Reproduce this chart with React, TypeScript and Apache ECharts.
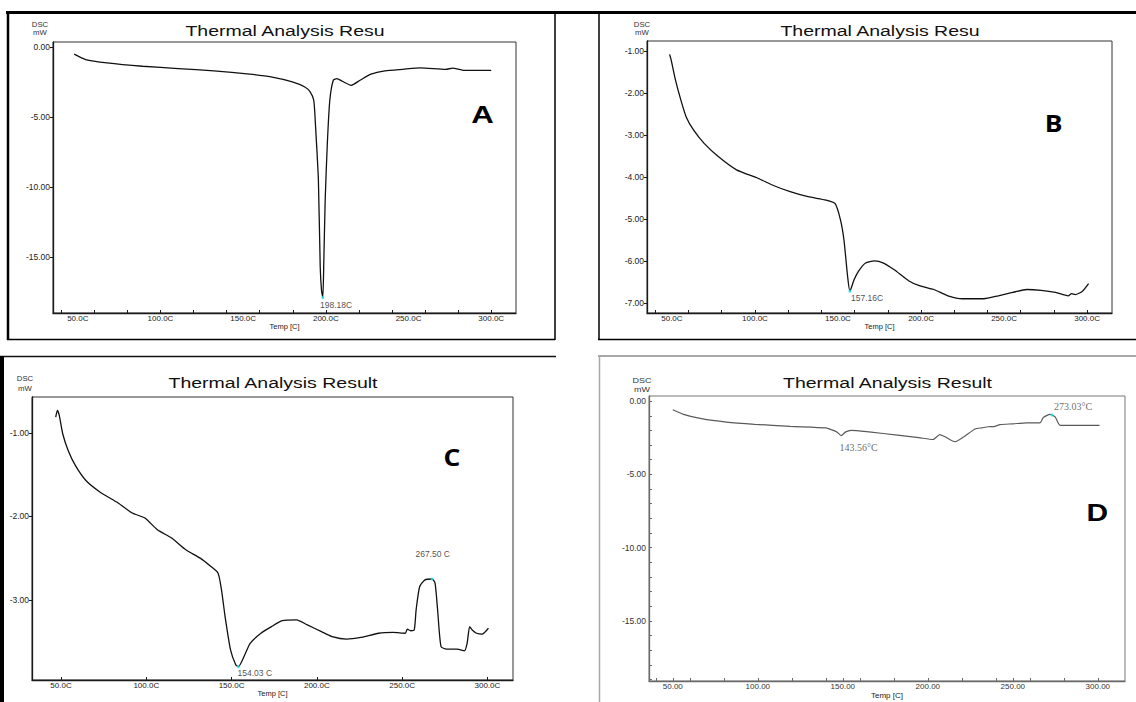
import React, { useEffect, useRef } from "react";
import * as echarts from "echarts";

// ---------- Panel A ----------
const aTemp = [47.8, 54.7, 67.7, 89.2, 110.8, 132.3, 153.9, 166.8, 179.7, 187.3, 190.5, 192.7, 193.8, 195.5, 196.6, 197.4, 198.18, 198.8, 199.6, 200.9, 202.4, 204.5, 206.7, 209.9, 215.3, 220.7, 227.2, 235.8, 246.6, 257.3, 272.4, 276.7, 283.2, 300];
const aDsc = [-0.52, -0.9, -1.14, -1.38, -1.55, -1.71, -1.95, -2.14, -2.5, -2.86, -3.21, -3.81, -5.71, -9.52, -15.7, -17.4, -17.9, -15.2, -10.95, -6.9, -3.81, -2.38, -2.26, -2.45, -2.74, -2.38, -1.95, -1.71, -1.6, -1.5, -1.6, -1.52, -1.67, -1.67];
const aPeakTemp = [198.18];
const aPeakDsc = [-17.9];
const aPeakText = ["198.18C"];

// ---------- Panel B ----------
const bTemp = [48.6, 49.6, 52.2, 55.4, 58.6, 63, 69.4, 78.1, 88.9, 101.8, 110.4, 121.2, 132, 142.8, 148.2, 151.5, 153.6, 155.8, 157.16, 159.7, 162.3, 166.6, 172, 177.4, 183.9, 192.5, 199, 207.6, 216.2, 224.9, 237.8, 246.5, 255.1, 263.7, 272.4, 281, 288.6, 290.7, 292.9, 297.2, 300.9];
const bDsc = [-1.08, -1.22, -1.7, -2.17, -2.57, -2.88, -3.2, -3.52, -3.83, -4.03, -4.19, -4.35, -4.47, -4.55, -4.63, -5.02, -5.5, -6.37, -6.72, -6.45, -6.25, -6.05, -6.0, -6.05, -6.21, -6.47, -6.59, -6.68, -6.83, -6.9, -6.9, -6.83, -6.75, -6.68, -6.7, -6.75, -6.83, -6.78, -6.8, -6.72, -6.54];
const bPeakTemp = [157.16];
const bPeakDsc = [-6.72];
const bPeakText = ["157.16C"];

// ---------- Panel C ----------
const cTemp = [46.9, 47.9, 49, 51, 54.2, 58.4, 64.6, 73, 83.5, 91.8, 99.2, 106.5, 114.9, 123.2, 131.6, 137.9, 142.1, 144.1, 146.2, 149.4, 152.5, 154.03, 157.7, 160.9, 167.2, 173.4, 179.7, 188.1, 194.4, 202.7, 209, 217.4, 225.7, 236.2, 244.6, 251.9, 253, 255, 257.1, 258.2, 260.3, 263.4, 267.5, 269.3, 270.8, 272.8, 276, 282.3, 286.5, 288.1, 289.6, 291.1, 293.7, 296.9, 300.6];
const cDsc = [-0.81, -0.73, -0.79, -1.01, -1.21, -1.39, -1.57, -1.71, -1.84, -1.96, -2.02, -2.16, -2.26, -2.4, -2.5, -2.6, -2.68, -2.88, -3.2, -3.6, -3.78, -3.8, -3.66, -3.52, -3.4, -3.32, -3.25, -3.24, -3.3, -3.38, -3.44, -3.47, -3.45, -3.4, -3.39, -3.4, -3.35, -3.37, -3.36, -3.12, -2.84, -2.76, -2.75, -2.8, -3.12, -3.56, -3.59, -3.59, -3.61, -3.52, -3.32, -3.36, -3.4, -3.41, -3.34];
const cPeakTemp = [154.03, 267.5];
const cPeakDsc = [-3.8, -2.75];
const cPeakText = ["154.03 C", "267.50 C"];

// ---------- Panel D ----------
const dTemp = [50, 56.3, 66.8, 81.5, 98.2, 119.2, 140.2, 143.3, 146.5, 149, 151.7, 154.9, 165.4, 182.1, 194.7, 203.1, 207, 210.4, 216, 221, 227.8, 232, 235.6, 238.8, 242.5, 250, 258.2, 266, 268, 271.9, 274.9, 277.8, 290, 301];
const dDsc = [-0.59, -0.9, -1.2, -1.43, -1.58, -1.72, -1.83, -1.95, -2.1, -2.35, -2.1, -1.99, -2.1, -2.32, -2.49, -2.62, -2.28, -2.45, -2.77, -2.45, -1.9, -1.82, -1.75, -1.74, -1.6, -1.55, -1.48, -1.48, -1.11, -0.91, -1.08, -1.65, -1.65, -1.65];
const dPeakTemp = [143.56, 273.03];
const dPeakDsc = [-1.95, -0.95];
const dPeakText = ["143.56°C", "273.03°C"];

// ---------- Axis ticks / labels ----------
const xLabelValues = [50, 100, 150, 200, 250, 300];
const xTickValues = [40, 60, 80, 100, 120, 140, 160, 180, 200, 220, 240, 260, 280, 300];
const dXTickValues = [40, 50, 60, 80, 100, 120, 140, 150, 160, 180, 200, 220, 240, 250, 260, 280, 300];
const aYLabels = [0, -5, -10, -15];
const bYLabels = [-1, -2, -3, -4, -5, -6, -7];
const cYLabels = [-1, -2, -3];
const dYLabels = [0, -5, -10, -15];
const dYTicks = [0, -1, -2, -3, -4, -5, -6, -7, -8, -9, -10, -11, -12, -13, -14, -15, -16, -17, -18, -19];
const titles = ["Thermal Analysis Resu", "Thermal Analysis Resu", "Thermal Analysis Result", "Thermal Analysis Result"];
const letters = ["A", "B", "C", "D"];
const yUnitTop = "DSC";
const yUnitBottom = "mW";
const xName = "Temp [C]";

const FONT = "Liberation Sans, Arial, sans-serif";

function pairs(xs: number[], ys: number[]) {
  return xs.map((x, i) => [x, ys[i]]);
}

export default function App() {
  const ref = useRef<HTMLDivElement>(null);
  useEffect(() => {
    if (!ref.current) return;
    const chart = echarts.init(ref.current, null, { renderer: "svg" });

    const grids = [
      { left: 53, top: 42, width: 463, height: 271 },
      { left: 647, top: 41, width: 465, height: 272 },
      { left: 32, top: 397, width: 481, height: 283 },
      { left: 649, top: 396, width: 476, height: 285 },
    ];
    const xRanges = [[35, 315], [35, 315], [33, 315], [36, 316]];
    const yRanges = [[-19, 0.35], [-7.24, -0.76], [-3.96, -0.57], [-19.1, 0.35]];
    const yLabelSets = [aYLabels, bYLabels, cYLabels, dYLabels];
    const axisColor = ["#1a1a1a", "#1a1a1a", "#1a1a1a", "#6a6a6a"];
    const labelColor = ["#222", "#222", "#222", "#333"];

    const xAxis = grids.map((_, i) => ({
      gridIndex: i,
      type: "value",
      min: xRanges[i][0],
      max: xRanges[i][1],
      axisLine: { show: true, onZero: false, lineStyle: { color: axisColor[i], width: 1.3 } },
      axisTick: {
        show: true,
        inside: true,
        length: 3,
        customValues: i === 2 ? xLabelValues : i === 3 ? dXTickValues : xTickValues,
        lineStyle: { color: axisColor[i], width: 1 },
      },
      axisLabel: {
        customValues: xLabelValues,
        formatter: (v: number) => (i === 3 ? v.toFixed(2) : v.toFixed(1) + "C"),
        fontSize: 8,
        fontFamily: FONT,
        color: labelColor[i],
        margin: 1,
      },
      splitLine: { show: false },
      name: xName,
      nameLocation: "middle",
      nameGap: i === 3 ? 10 : 9,
      nameTextStyle: { fontSize: i === 3 ? 8 : 7.5, fontFamily: FONT, color: "#222" },
    }));

    const yAxis = grids.map((_, i) => ({
      gridIndex: i,
      type: "value",
      min: yRanges[i][0],
      max: yRanges[i][1],
      axisLine: { show: true, onZero: false, lineStyle: { color: axisColor[i], width: 1.3 } },
      axisTick: {
        show: true,
        inside: i === 3,
        length: 3,
        customValues: i === 3 ? dYTicks : yLabelSets[i],
        lineStyle: { color: axisColor[i], width: 1 },
      },
      axisLabel: {
        customValues: yLabelSets[i],
        formatter: (v: number) => v.toFixed(2),
        fontSize: 8.5,
        fontFamily: FONT,
        color: labelColor[i],
        margin: 3,
      },
      splitLine: { show: false },
    }));

    const lineSeries = [
      pairs(aTemp, aDsc),
      pairs(bTemp, bDsc),
      pairs(cTemp, cDsc),
      pairs(dTemp, dDsc),
    ].map((data, i) => ({
      type: "line",
      xAxisIndex: i,
      yAxisIndex: i,
      data,
      showSymbol: false,
      symbol: "none",
      smooth: 0.2,
      lineStyle: { color: i === 3 ? "#5a5a5a" : "#111", width: i === 3 ? 1.2 : 1.3 },
      z: 3,
    }));

    // label layout (offsets relative to the marker box) kept separate from the data
    const peakLayouts = [
      [{ pos: [-1.3, 8.9], align: "left", visible: true }],
      [{ pos: [2.6, 8], align: "left", visible: true }],
      [{ pos: [0.6, 7.6], align: "left", visible: true }, { pos: [2.2, -23.5], align: "center", visible: true }],
      [{ pos: [9.2, 19.1], align: "left", visible: false }, { pos: [3.5, -6.8], align: "left", visible: true }],
    ];
    const peakSets = [
      [aPeakTemp, aPeakDsc, aPeakText],
      [bPeakTemp, bPeakDsc, bPeakText],
      [cPeakTemp, cPeakDsc, cPeakText],
      [dPeakTemp, dPeakDsc, dPeakText],
    ] as [number[], number[], string[]][];

    const peakSeries = peakSets.map(([xs, ys, names], i) => ({
      type: "scatter",
      xAxisIndex: i,
      yAxisIndex: i,
      symbolSize: 3,
      z: 5,
      data: xs.map((x, j) => ({
        value: [x, ys[j]],
        name: names[j],
        itemStyle: { color: peakLayouts[i][j].visible ? "#19e3e8" : "rgba(0,0,0,0)" },
        label: {
          show: true,
          formatter: names[j],
          position: peakLayouts[i][j].pos,
          align: peakLayouts[i][j].align,
          verticalAlign: "middle",
          fontSize: i === 3 ? 10 : 8.5,
          fontFamily: i === 3 ? "Liberation Serif, Times New Roman, serif" : FONT,
          color: i === 3 ? "#444" : "#222",
        },
      })),
    }));

    const line = (x1: number, y1: number, x2: number, y2: number, stroke: string, w: number) => ({
      type: "line",
      shape: { x1, y1, x2, y2 },
      style: { stroke, lineWidth: w },
      silent: true,
    });
    const text = (
      t: string,
      x: number,
      y: number,
      size: number,
      opts: { weight?: string; family?: string; scaleX?: number; color?: string } = {}
    ) => ({
      type: "text",
      x,
      y,
      scaleX: opts.scaleX ?? 1,
      silent: true,
      style: {
        text: t,
        fontSize: size,
        fontFamily: opts.family ?? FONT,
        fontWeight: opts.weight ?? "normal",
        fill: opts.color ?? "#000",
        textAlign: "center",
        textVerticalAlign: "middle",
        align: "center",
        verticalAlign: "middle",
      },
    });

    const titlePos = [[285, 30.5], [880, 30.5], [273, 383.3], [887.5, 383.3]];
    const letterPos = [[482.5, 115], [1053.5, 123.3], [452, 457], [1097.4, 513.3]];
    const letterFont = [FONT, "Open Sans, DejaVu Sans, sans-serif", "Open Sans, DejaVu Sans, sans-serif", FONT];
    const letterSize = [24, 23, 23, 23];
    const unitPos = [[40, 25, 33.5], [642, 25, 33], [25, 379.3, 389.5], [642, 381, 389.5]];

    const graphic: any[] = [
      // panel A / B frame
      line(6, 12.5, 1136, 12.5, "#000", 3),
      line(8, 11, 8, 340, "#000", 2.5),
      line(7, 339.5, 555, 339.5, "#000", 1.5),
      line(555, 11, 555, 340, "#000", 1.5),
      line(599, 11, 599, 340, "#000", 1.5),
      line(598, 339.5, 1136, 339.5, "#000", 1.5),
      // panel C frame
      line(0, 356.5, 556, 356.5, "#111", 1.5),
      line(2, 356, 2, 702, "#000", 4),
      // panel D frame
      line(598, 356, 1136, 356, "#a8a8a8", 2),
      line(599.5, 355, 599.5, 702, "#a8a8a8", 1.5),
    ];
    titles.forEach((t, i) => {
      graphic.push(text(t, titlePos[i][0], titlePos[i][1], 15, { scaleX: 1.3, color: "#111" }));
      graphic.push(
        text(letters[i], letterPos[i][0], letterPos[i][1], letterSize[i], {
          weight: "bold",
          family: letterFont[i],
          scaleX: i === 1 || i === 2 ? 1.15 : 1.3,
        })
      );
      const us = i === 3 ? 7.5 : 6.5;
      graphic.push(text(yUnitTop, unitPos[i][0], unitPos[i][1], us, { scaleX: 1.2, color: "#333" }));
      graphic.push(text(yUnitBottom, unitPos[i][0], unitPos[i][2], us, { scaleX: 1.2, color: "#333" }));
    });

    chart.setOption({
      animation: false,
      backgroundColor: "#fff",
      grid: grids.map((g, i) => ({
        ...g,
        show: true,
        borderColor: i === 3 ? "#777" : "#333",
        borderWidth: 1,
        backgroundColor: "transparent",
      })),
      xAxis,
      yAxis,
      series: [...lineSeries, ...peakSeries],
      graphic,
    });

    return () => chart.dispose();
  }, []);

  return (
    <div
      ref={ref}
      style={{ position: "absolute", left: 0, top: 0, width: 1136, height: 702, background: "#fff" }}
    />
  );
}
